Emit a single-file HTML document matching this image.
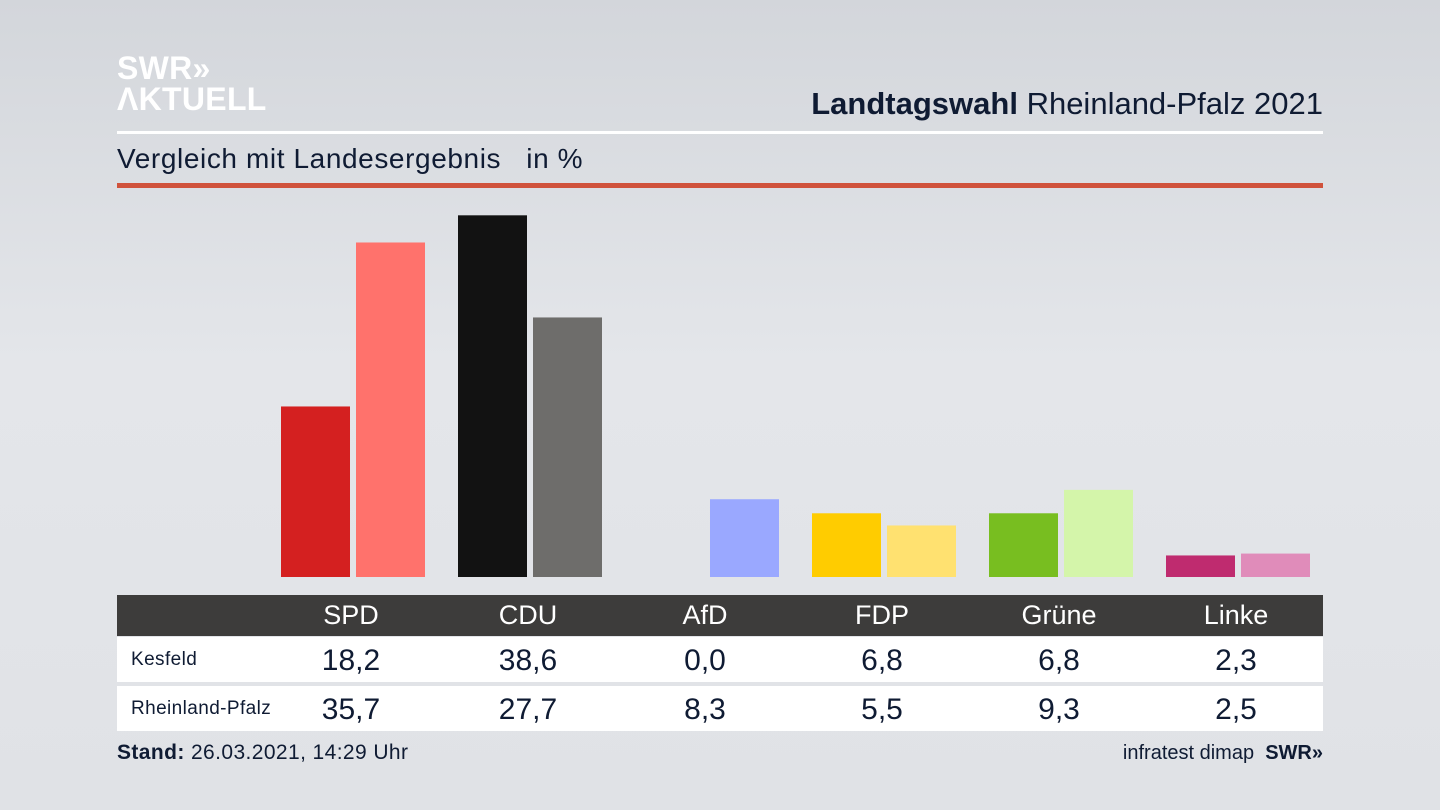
<!DOCTYPE html>
<html><head><meta charset="utf-8"><style>
*{margin:0;padding:0;box-sizing:border-box}
body{width:1440px;height:810px;overflow:hidden;background:linear-gradient(180deg,#d3d6db 0%,#e4e6ea 45%,#e0e2e6 100%);font-family:"Liberation Sans",sans-serif;position:relative;color:#0f1b33}
.abs{position:absolute}
</style></head><body>
<div class="abs" style="left:117px;top:53px;color:#fff;font-weight:bold;font-size:32px;line-height:31px;letter-spacing:0.3px">SWR»<br>ΛKTUELL</div>
<div class="abs" style="right:117px;top:86px;font-size:31px;color:#0f1b33"><b>Landtagswahl</b> Rheinland-Pfalz 2021</div>
<div class="abs" style="left:117px;top:131px;width:1206px;height:3px;background:#fff"></div>
<div class="abs" style="left:117px;top:143px;font-size:28px;letter-spacing:0.6px">Vergleich mit Landesergebnis &nbsp; in %</div>
<div class="abs" style="left:117px;top:183px;width:1206px;height:5px;background:#d0523c"></div>
<svg class="abs" id="chart" style="left:0;top:0" width="1440" height="600"></svg>
<div class="abs" style="left:117px;top:595px;width:1206px;height:41px;background:#3d3c3b"></div>
<div class="abs" style="left:117px;top:637px;width:1206px;height:45px;background:#fff"></div>
<div class="abs" style="left:117px;top:686px;width:1206px;height:45px;background:#fff"></div>
<div class="abs" style="left:131px;top:649px;font-size:19px;letter-spacing:0.4px">Kesfeld</div>
<div class="abs" style="left:131px;top:698px;font-size:19px;letter-spacing:0.4px">Rheinland-Pfalz</div>
<div id="table"></div>
<div class="abs" style="left:117px;top:741px;font-size:21px;letter-spacing:0.4px"><b>Stand:</b> 26.03.2021, 14:29 Uhr</div>
<div class="abs" style="right:117px;top:742px;font-size:20px">infratest dimap &nbsp;<b>SWR»</b></div>
<script>
const parties=["SPD","CDU","AfD","FDP","Grüne","Linke"];
const kesfeld=[18.2,38.6,0.0,6.8,6.8,2.3];
const landes=[35.7,27.7,8.3,5.5,9.3,2.5];
const colK=["#d42020","#121212","#9aa8ff","#ffcc00","#78be20","#bf2b6f"];
const colL=["#ff726c","#6e6d6b","#9aa8ff","#ffe170","#d4f5aa","#e08cba"];
const base=577,scale=9.37,x0=281,step=177,bw=69,gap=6;
const y=v=>base-v*scale;
const svg=document.getElementById('chart'),NS="http://www.w3.org/2000/svg";
const tbl=document.getElementById('table');
parties.forEach((p,i)=>{
  [[kesfeld[i],colK[i],0],[landes[i],colL[i],1]].forEach(([v,c,j])=>{
    const r=document.createElementNS(NS,'rect');
    r.setAttribute('x',x0+i*step+j*(bw+gap));
    r.setAttribute('y',y(v));r.setAttribute('width',bw);r.setAttribute('height',base-y(v));
    r.setAttribute('fill',c);
    
    
    svg.appendChild(r);
  });
  const cx=x0+i*step+bw+gap/2-2;
  const mk=(t,top,sz,col,nm)=>{const d=document.createElement('div');d.className='abs';
    d.style.cssText=`left:${cx-80}px;width:160px;text-align:center;top:${top}px;font-size:${sz}px;color:${col}`;
    d.textContent=t;
    
    
    tbl.appendChild(d);};
  mk(p,600,27,'#fff','header-'+p.toLowerCase());
  mk(kesfeld[i].toFixed(1).replace('.',','),644,30,'#0f1b33','value-kesfeld-'+p.toLowerCase());
  mk(landes[i].toFixed(1).replace('.',','),693,30,'#0f1b33','value-landes-'+p.toLowerCase());
});
</script>
</body></html>
